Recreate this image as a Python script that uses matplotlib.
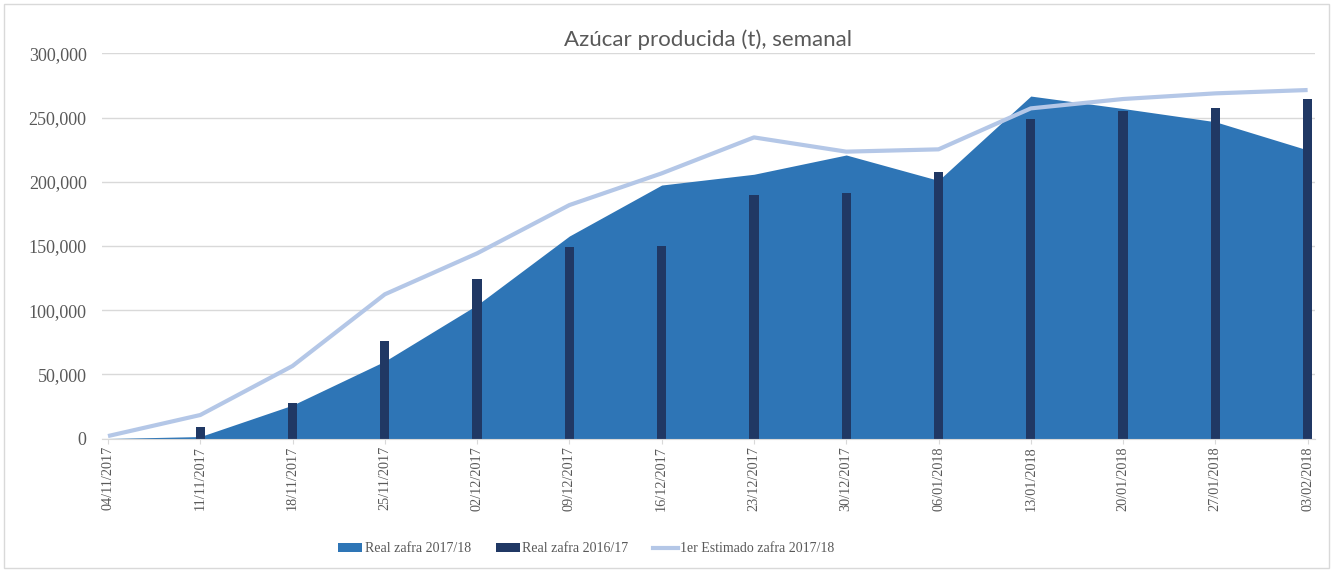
import matplotlib
matplotlib.use("Agg")
import matplotlib.pyplot as plt
from matplotlib.patches import Rectangle, Patch
from matplotlib.lines import Line2D
from matplotlib.ticker import FuncFormatter, MultipleLocator

fechas = ["04/11/2017", "11/11/2017", "18/11/2017", "25/11/2017", "02/12/2017",
          "09/12/2017", "16/12/2017", "23/12/2017", "30/12/2017", "06/01/2018",
          "13/01/2018", "20/01/2018", "27/01/2018", "03/02/2018"]
real_1718 = [0, 1500, 26000, 60200, 104000, 157700, 197400, 205800, 220800,
             201000, 266700, 257000, 246700, 224700]
real_1617 = [0, 9200, 27900, 76200, 124200, 148900, 150200, 189900, 191400,
             207800, 248600, 255100, 257600, 264400]
estimado = [1900, 18300, 56500, 112300, 144200, 181800, 206500, 234500, 223400,
            225200, 257100, 264400, 268800, 271400]

lbl_1718 = "Real zafra 2017/18"
lbl_1617 = "Real zafra 2016/17"
lbl_est = "1er Estimado zafra 2017/18"
titulo = "Azúcar producida (t), semanal"

c_area = "#2E75B6"
c_bar = "#203864"
c_line = "#B4C7E7"
c_text = "#595959"
c_grid = "#D9D9D9"
serif = ["Liberation Serif", "DejaVu Serif"]

W, H = 1333, 571
fig = plt.figure(figsize=(W / 100, H / 100), dpi=100)
ax = fig.add_axes([102 / W, 1 - 438.5 / H, (1315 - 102) / W, (438.5 - 53.3) / H])

x = list(range(len(fechas)))
ax.fill_between(x, real_1718, 0, color=c_area, lw=0, zorder=2)
ax.bar(x, real_1617, width=0.1, color=c_bar, zorder=3)
ax.plot(x, estimado, color=c_line, lw=3, zorder=4, solid_capstyle="butt")

ax.set_xlim(-0.065, 13.08)
ax.set_ylim(0, 300000)
ax.yaxis.set_major_locator(MultipleLocator(50000))
ax.yaxis.set_major_formatter(FuncFormatter(lambda v, p: f"{v:,.0f}"))
ax.grid(axis="y", color=c_grid, lw=1, zorder=0)
ax.set_axisbelow(True)
for s in ["top", "right", "left"]:
    ax.spines[s].set_visible(False)
ax.spines["bottom"].set_color(c_grid)
ax.spines["bottom"].set_zorder(5)

ax.set_xticks(x)
ax.set_xticklabels(fechas, rotation=90, family=serif, fontsize=10.3, color=c_text)
ax.tick_params(axis="x", length=3.5, color=c_grid, pad=2)
ax.tick_params(axis="y", length=0, pad=11, labelsize=13, labelcolor=c_text)
for t in ax.get_yticklabels():
    t.set_family(serif)

fig.text(708 / W, 1 - 40 / H, titulo, ha="center", va="center", fontsize=16,
         color=c_text, family=["Lato", "DejaVu Sans"], fontweight="normal")

handles = [Patch(facecolor=c_area, edgecolor="none"),
           Patch(facecolor=c_bar, edgecolor="none"),
           Line2D([], [], color=c_line, lw=3)]
fig.legend(handles, [lbl_1718, lbl_1617, lbl_est], loc="center",
           bbox_to_anchor=(586 / W, 1 - 549 / H), ncol=3, frameon=False,
           prop={"family": serif, "size": 10}, labelcolor=c_text,
           handlelength=1.75, handleheight=0.6, handletextpad=0.15,
           columnspacing=1.8)

fig.add_artist(Rectangle((4 / W, 3 / H), (W - 8) / W, (H - 7) / H,
                         transform=fig.transFigure, fill=False,
                         edgecolor=c_grid, lw=1))

fig.savefig("out.png", dpi=100)
